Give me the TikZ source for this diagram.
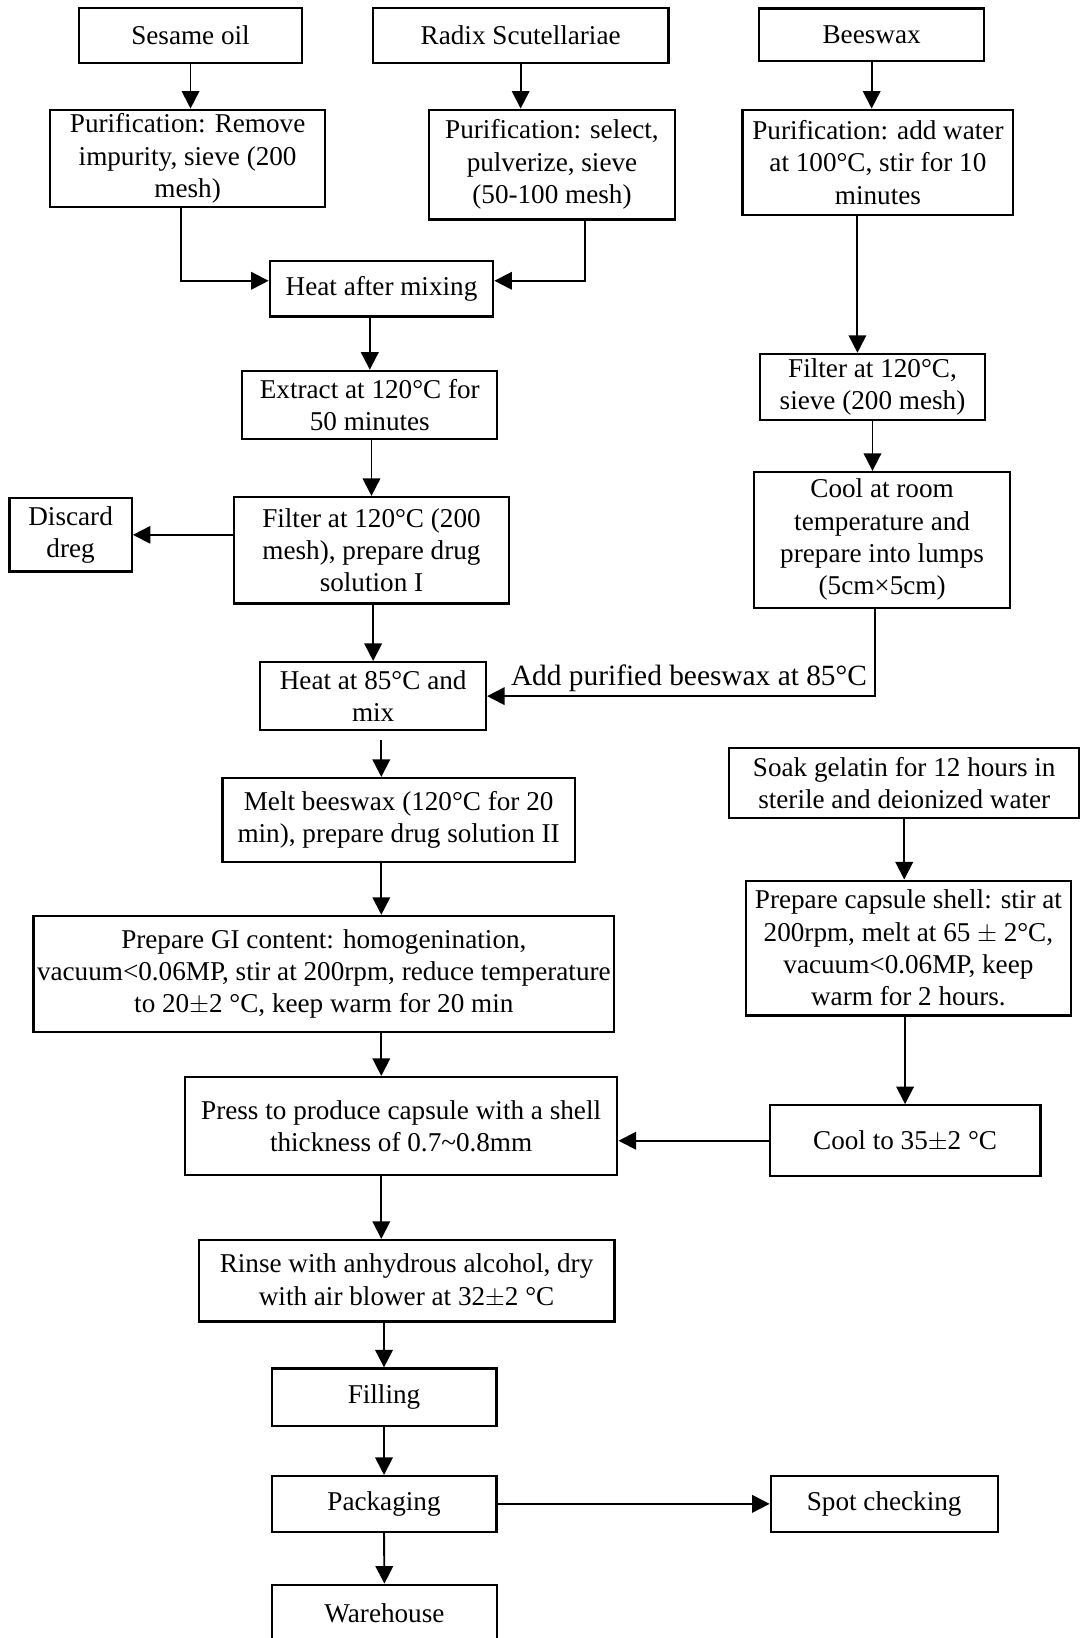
\documentclass[tikz,border=0pt]{standalone}
\usepackage{fontspec}
\setmainfont{Liberation Serif}
\usepackage{tikz}
\usetikzlibrary{calc, arrows.meta}

\begin{document}
\begin{tikzpicture}[
  font=\fontsize{18.5}{22}\selectfont,
  box/.style={draw, line width=1.5pt, align=center, inner sep=1pt},
  arr/.style={line width=1.3pt, -{Triangle[length=0.42cm, width=0.42cm]}},
  lbl/.style={inner sep=2pt, font=\fontsize{20}{24}\selectfont}
]

\useasboundingbox (0,0) rectangle (25.875,39.2);

%% ─── Raw materials ──────────────────────────────────────────
\node[box, minimum width=5.33cm, minimum height=1.30cm] (sesame) at (4.56,38.35) {Sesame oil};
\node[box, minimum width=7.08cm, minimum height=1.30cm] (radix) at (12.46,38.35) {Radix Scutellariae};
\node[box, minimum width=5.38cm, minimum height=1.25cm] (beeswax) at (20.86,38.37) {Beeswax};

%% ─── Purification ───────────────────────────────────────────
\node[box, minimum width=6.58cm, minimum height=2.33cm] (pur1) at (4.49,35.41)
  {Purification: Remove\\impurity, sieve (200\\mesh)};
\node[box, minimum width=5.88cm, minimum height=2.63cm] (pur2) at (13.21,35.26)
  {Purification: select,\\pulverize, sieve\\(50-100 mesh)};
\node[box, minimum width=6.48cm, minimum height=2.53cm] (pur3) at (21.01,35.31)
  {Purification: add water\\at 100°C, stir for 10\\minutes};

%% ─── Drug solution I ────────────────────────────────────────
\node[box, minimum width=5.35cm, minimum height=1.33cm] (heatmix) at (9.13,32.29) {Heat after mixing};
\node[box, minimum width=6.10cm, minimum height=1.63cm] (extract) at (8.85,29.51)
  {Extract at 120°C for\\50 minutes};
\node[box, minimum width=6.58cm, minimum height=2.55cm] (filterone) at (8.89,26.03)
  {Filter at 120°C (200\\mesh), prepare drug\\solution I};
\node[box, minimum width=2.93cm, minimum height=1.75cm] (discard) at (1.69,26.40)
  {Discard\\dreg};

%% ─── Beeswax branch ─────────────────────────────────────────
\node[box, minimum width=5.40cm, minimum height=1.58cm] (filtertwo) at (20.88,29.94)
  {Filter at 120°C,\\sieve (200 mesh)};
\node[box, minimum width=6.13cm, minimum height=3.25cm] (coolroom) at (21.11,26.28)
  {Cool at room\\temperature and\\prepare into lumps\\(5cm×5cm)};

%% ─── Drug solution II and content ───────────────────────────
\node[box, minimum width=5.40cm, minimum height=1.63cm] (heatef) at (8.93,22.54)
  {Heat at 85°C and\\mix};
\node[box, minimum width=8.43cm, minimum height=2.00cm] (melt) at (9.54,19.58)
  {Melt beeswax (120°C for 20\\min), prepare drug solution II};
\node[box, minimum width=13.90cm, minimum height=2.78cm] (gi) at (7.75,15.89)
  {Prepare GI content: homogenination,\\vacuum<0.06MP, stir at 200rpm, reduce temperature\\to 20$\pm$2 °C, keep warm for 20 min};

%% ─── Capsule shell ──────────────────────────────────────────
\node[box, minimum width=8.38cm, minimum height=1.68cm] (soak) at (21.64,20.46)
  {Soak gelatin for 12 hours in\\sterile and deionized water};
\node[box, minimum width=7.78cm, minimum height=3.23cm] (shell) at (21.74,16.51)
  {Prepare capsule shell: stir at\\200rpm, melt at 65 $\pm$ 2°C,\\vacuum<0.06MP, keep\\warm for 2 hours.};
\node[box, minimum width=6.48cm, minimum height=1.70cm] (coolff) at (21.66,11.90)
  {Cool to 35$\pm$2 °C};

%% ─── Pressing and finishing ─────────────────────────────────
\node[box, minimum width=10.35cm, minimum height=2.35cm] (press) at (9.60,12.25)
  {Press to produce capsule with a shell\\thickness of 0.7\textasciitilde0.8mm};
\node[box, minimum width=9.95cm, minimum height=1.95cm] (rinse) at (9.73,8.55)
  {Rinse with anhydrous alcohol, dry\\with air blower at 32$\pm$2 °C};
\node[box, minimum width=5.38cm, minimum height=1.38cm] (filling) at (9.19,5.76) {Filling};
\node[box, minimum width=5.38cm, minimum height=1.33cm] (packaging) at (9.19,3.21) {Packaging};
\node[box, minimum width=5.43cm, minimum height=1.33cm] (spot) at (21.16,3.21) {Spot checking};
\node[box, minimum width=5.40cm, minimum height=1.38cm] (warehouse) at (9.20,0.585) {Warehouse};

%% main line of arrows
\coordinate (spine) at (9.125,0);

%% ─── Connectors ─────────────────────────────────────────────
\draw[arr] (sesame.south) -- (sesame.south |- pur1.north);
\draw[arr] (radix.south) -- (radix.south |- pur2.north);
\draw[arr] (beeswax.south) -- (beeswax.south |- pur3.north);
\draw[arr] ([xshift=-0.15cm]pur1.south) |- ([yshift=0.19cm]heatmix.west);
\draw[arr] ([xshift=0.79cm]pur2.south) |- ([yshift=0.19cm]heatmix.east);
\draw[arr] (extract.north |- heatmix.south) -- (extract.north);
\draw[arr] (filterone.north |- extract.south) -- (filterone.north);
\draw[arr] (filterone.west |- discard.east) -- (discard.east);
\draw[arr] (heatef.north |- filterone.south) -- (heatef.north);

\draw[arr] ([xshift=-0.49cm]pur3.south) -- ([xshift=-0.49cm]pur3.south |- filtertwo.north);
\draw[arr] (filtertwo.south) -- (filtertwo.south |- coolroom.north);
\draw[arr] ([xshift=-0.16cm]coolroom.south) |-
  node[lbl, pos=0.74, above] (addwax) {Add purified beeswax at 85°C} (heatef.east);

\draw[arr, shorten <=0.22cm] (spine |- heatef.south) -- (spine |- melt.north);
\draw[arr] (spine |- melt.south) -- (spine |- gi.north);
\draw[arr] (spine |- gi.south) -- (spine |- press.north);
\draw[arr] (spine |- press.south) -- (spine |- rinse.north);
\draw[arr] (filling.north |- rinse.south) -- (filling.north);
\draw[arr] (filling.south) -- (packaging.north);
\draw[arr] (packaging.south) -- (warehouse.north);
\draw[arr] (packaging.east) -- (spot.west);

\draw[arr] (soak.south) -- (soak.south |- shell.north);
\draw[arr] (coolff.north |- shell.south) -- (coolff.north);
\draw[arr] (coolff.west) -- (coolff.west -| press.east);

\end{tikzpicture}
\end{document}
